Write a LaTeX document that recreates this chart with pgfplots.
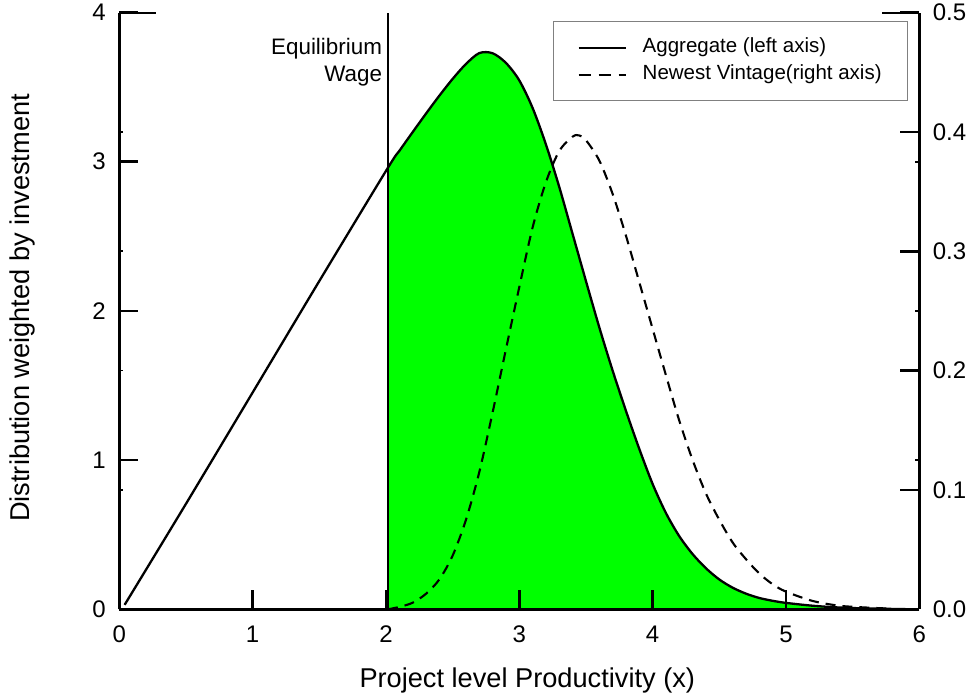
\documentclass[border=0pt]{standalone}
\usepackage{pgfplots}
\pgfplotsset{compat=1.18}
\usepackage{fontspec}
\setmainfont{Liberation Sans}
\definecolor{brightgreen}{RGB}{0,255,0}
\pgfplotstableread{
x y
2.015 2.96
2.1 3.072
2.2 3.198
2.3 3.322
2.4 3.442
2.5 3.555
2.6 3.655
2.7 3.728
2.8 3.727
2.9 3.662
3.0 3.545
3.1 3.36
3.2 3.115
3.3 2.83
3.4 2.515
3.5 2.2
3.6 1.89
3.7 1.6
3.8 1.33
3.9 1.075
4.0 0.84
4.1 0.645
4.2 0.49
4.3 0.37
4.4 0.275
4.5 0.2
4.6 0.145
4.7 0.105
4.8 0.076
4.9 0.057
5.0 0.043
5.2 0.024
5.4 0.012
5.6 0.006
5.9 0.001
}\aggright
\pgfplotstableread{
x y
0.04 0.03
0.5 0.707
1.0 1.453
1.5 2.2
2.015 2.96
2.1 3.072
2.2 3.198
2.3 3.322
2.4 3.442
2.5 3.555
2.6 3.655
2.7 3.728
2.8 3.727
2.9 3.662
3.0 3.545
3.1 3.36
3.2 3.115
3.3 2.83
3.4 2.515
3.5 2.2
3.6 1.89
3.7 1.6
3.8 1.33
3.9 1.075
4.0 0.84
4.1 0.645
4.2 0.49
4.3 0.37
4.4 0.275
4.5 0.2
4.6 0.145
4.7 0.105
4.8 0.076
4.9 0.057
5.0 0.043
5.2 0.024
5.4 0.012
5.6 0.006
5.9 0.001
}\aggregate
\pgfplotstableread{
x y
2.015 0
2.1 0.002
2.2 0.0055
2.3 0.013
2.4 0.025
2.5 0.045
2.6 0.075
2.7 0.115
2.8 0.165
2.9 0.218
3.0 0.27
3.1 0.32
3.2 0.358
3.3 0.384
3.4 0.396
3.45 0.397
3.5 0.393
3.6 0.376
3.7 0.348
3.8 0.313
3.9 0.274
4.0 0.235
4.1 0.196
4.2 0.158
4.3 0.125
4.4 0.097
4.5 0.075
4.6 0.056
4.7 0.042
4.8 0.03
4.9 0.021
5.0 0.0148
5.2 0.007
5.4 0.003
5.6 0.0015
5.8 0.0005
}\vintage
\begin{document}
\begin{tikzpicture}
\useasboundingbox (-59.65pt,-44.35pt) rectangle (427.35pt,304.65pt);
\pgfplotsset{
  common/.style={
    scale only axis, width=400pt, height=298.4pt, at={(0pt,0pt)}, anchor=south west,
    xmin=0, xmax=6, tick align=inside, major tick length=9.5pt,
    tick style={line width=1.3pt, black},
    axis line style={line width=1.5pt},
    tick label style={font=\fontsize{12}{14}\selectfont},
    /pgf/number format/assume math mode=true,
    xticklabel style={yshift=-4.7pt},
  }
}
\begin{axis}[common, ymin=0, ymax=4,
  axis x line*=bottom, axis y line*=left, axis on top,
  xtick={0,1,2,3,4,5,6}, ytick={0,1,2,3,4},
  yticklabel style={xshift=-3.2pt},
  extra y ticks={0.8,1.6,2.4,3.2}, extra y tick labels={},
  extra y tick style={major tick length=2pt, tick style={line width=0.8pt}},
  xlabel={Project level Productivity (x)},
  xlabel style={at={(axis description cs:0.51,-0.1185)}, anchor=center, font=\fontsize{13.6}{16}\selectfont},
  ylabel={Distribution weighted by investment},
  ylabel style={at={(axis description cs:-0.1216,0.505)}, anchor=center, font=\fontsize{13.6}{16}\selectfont},
  legend style={at={(axis description cs:0.5418,0.9858)}, anchor=north west,
    draw=gray, line width=0.7pt, inner xsep=12pt, inner ysep=8pt, row sep=3.5pt,
    font=\fontsize{10.25}{12}\selectfont,
    nodes={inner xsep=1pt, inner ysep=0pt, text height=7.5pt, text depth=2.5pt}},
  legend cell align=left,
  legend image code/.code={\draw[#1] (0pt,0pt) -- (23.5pt,0pt); \path (30.5pt,0pt);},
]
\addlegendimage{black, line width=1.15pt}
\addlegendentry{Aggregate (left axis)}
\addlegendimage{black, line width=1.1pt, dash pattern=on 6pt off 4pt}
\addlegendentry{Newest Vintage(right axis)}
\addplot[fill=brightgreen, draw=none, smooth, forget plot] table {\aggright} \closedcycle;
\addplot[black, line width=1.2pt, forget plot] coordinates {(2.015,0) (2.015,4)};
\addplot[black, line width=1.15pt, smooth, forget plot] table {\aggregate};
\draw[line width=1.3pt] (axis cs:0,4) -- ++(18.5pt,0pt);
\node[anchor=north east, xshift=-2.8pt, align=right, inner sep=0pt, font=\fontsize{11.2}{13.65}\selectfont] at (axis cs:2.015,3.83) {Equilibrium\\Wage};
\end{axis}
\begin{axis}[common, ymin=0, ymax=0.5,
  axis y line*=right, axis x line=none,
  ytick={0,0.1,0.2,0.3,0.4,0.5},
  yticklabel style={xshift=3.2pt, /pgf/number format/.cd, fixed, fixed zerofill, precision=1},
  extra y ticks={0.125,0.25,0.375}, extra y tick labels={},
  extra y tick style={major tick length=2pt, tick style={line width=0.8pt}},
]
\addplot[black, line width=1.05pt, dash pattern=on 5pt off 3.5pt, smooth] table {\vintage};
\draw[line width=1.3pt] (axis cs:6,0.5) -- ++(-18.5pt,0pt);
\end{axis}
\end{tikzpicture}
\end{document}
